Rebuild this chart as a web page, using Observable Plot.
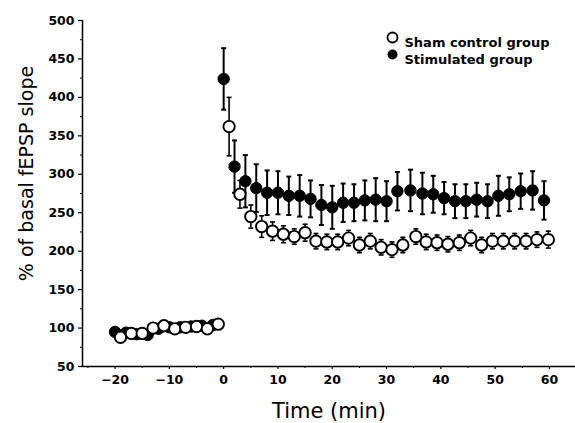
<!DOCTYPE html>
<html>
<head>
<meta charset="utf-8">
<script src="https://cdn.jsdelivr.net/npm/d3@7"></script>
<script src="https://cdn.jsdelivr.net/npm/@observablehq/plot@0.6"></script>
<style>
  html, body { margin: 0; padding: 0; background: #fff; }
</style>
</head>
<body>
<div id="chart"></div>
<script>
// ---- data ----
const seriesNames = ["Sham control group", "Stimulated group"];

// Sham control group (open circles)
const shamTime = [-19, -17, -15, -13, -11, -9, -7, -5, -3, -1,
  1, 3, 5, 7, 9, 11, 13, 15, 17, 19, 21, 23, 25, 27, 29, 31, 33,
  35.4, 37.3, 39.3, 41.3, 43.4, 45.5, 47.5, 49.5, 51.5, 53.6, 55.7, 57.7, 59.8];
const shamValue = [88, 93, 93, 100, 103, 99, 101, 102, 99, 105,
  362, 274, 245, 232, 226, 222, 219, 224, 213, 212, 212, 217, 208, 213, 205, 202, 208,
  219, 212, 211, 209, 211, 217, 208, 213, 213, 213, 213, 215, 215];
const shamError = [4, 4, 4, 4, 4, 4, 4, 4, 4, 4,
  38, 18, 15, 14, 12, 11, 10, 11, 10, 10, 10, 10, 10, 10, 10, 10, 10,
  10, 10, 10, 10, 10, 10, 10, 10, 10, 10, 10, 10, 11];

// Stimulated group (filled circles)
const stimTime = [-20, -18, -16, -14, -12, -10, -8, -6, -4, -2,
  0, 2, 4, 6, 8, 10, 12, 14, 16, 18, 20, 22, 24, 26, 28, 30, 32,
  34.4, 36.6, 38.6, 40.6, 42.6, 44.6, 46.6, 48.6, 50.6, 52.6, 54.7, 56.9, 59];
const stimValue = [95, 94, 92, 91, 99, 101, 101, 102, 103, 104,
  424, 310, 291, 282, 276, 276, 272, 272, 268, 260, 257, 263, 263, 266, 267, 265, 278,
  279, 275, 274, 269, 265, 265, 267, 265, 272, 274, 278, 279, 266];
const stimError = [4, 4, 4, 4, 4, 4, 4, 4, 4, 4,
  40, 34, 34, 31, 29, 28, 25, 27, 24, 26, 28, 25, 24, 26, 28, 26, 25,
  27, 27, 24, 21, 22, 22, 22, 22, 26, 22, 23, 25, 25];

const xTicks = [-20, -10, 0, 10, 20, 30, 40, 50, 60];
const xMinorTicks = [-25, -15, -5, 5, 15, 25, 35, 45, 55];
const yTicks = [50, 100, 150, 200, 250, 300, 350, 400, 450, 500];
const yMinorTicks = [75, 125, 175, 225, 275, 325, 375, 425, 475];
const xLabel = "Time (min)";
const yLabel = "% of basal fEPSP slope";

// ---- build tables ----
const sham = shamTime.map((t, i) => ({t, v: shamValue[i], e: shamError[i]}));
const stim = stimTime.map((t, i) => ({t, v: stimValue[i], e: stimError[i]}));

const xDomain = [-26, 64.8];
const yDomain = [50, 500];

// horizontal cap symbol for error bars
const capSymbol = {
  draw(context, size) {
    const w = Math.sqrt(size / Math.PI);
    context.moveTo(-w, 0);
    context.lineTo(w, 0);
  }
};

function errorMarks(data, sw) {
  return [
    Plot.ruleX(data, {x: "t", y1: d => d.v - d.e, y2: d => d.v + d.e, stroke: "black", strokeWidth: sw}),
    Plot.dot(data, {x: "t", y: d => d.v + d.e, symbol: capSymbol, r: 2.5, stroke: "black", strokeWidth: sw, fill: "none"}),
    Plot.dot(data, {x: "t", y: d => d.v - d.e, symbol: capSymbol, r: 2.5, stroke: "black", strokeWidth: sw, fill: "none"})
  ];
}

const chart = Plot.plot({
  width: 575,
  height: 423,
  marginLeft: 82,
  marginRight: 0,
  marginTop: 20,
  marginBottom: 57,
  x: {domain: xDomain},
  y: {domain: yDomain},
  style: {background: "white", color: "black", fontFamily: "DejaVu Sans"},
  marks: [
    // axes lines
    Plot.ruleY([yDomain[0]], {stroke: "black", strokeWidth: 1.5}),
    Plot.ruleX([xDomain[0]], {stroke: "black", strokeWidth: 1.5}),
    Plot.axisY(yTicks, {tickSize: 4, tickPadding: 4, fontSize: 12.5, fontWeight: "bold", label: null, strokeWidth: 1.2}),
    Plot.axisY(yMinorTicks, {tickSize: 2, text: null, label: null}),
    Plot.axisX(xTicks, {tickSize: 3, tickPadding: 6, fontSize: 12.5, fontWeight: "bold", label: null, strokeWidth: 1.2}),
    Plot.axisX(xMinorTicks, {tickSize: 2, text: null, label: null}),
    // stimulated group (drawn first, behind)
    ...errorMarks(stim, 2),
    Plot.dot(stim, {x: "t", y: "v", r: 5.7, fill: "black", stroke: "black", strokeWidth: 1}),
    // sham group
    ...errorMarks(sham, 1.6),
    Plot.dot(sham, {x: "t", y: "v", r: 5.7, fill: "white", stroke: "black", strokeWidth: 1.9}),
    // axis titles
    Plot.text([xLabel], {text: d => d, frameAnchor: "bottom", dy: 51, fontSize: 21, fill: "black"}),
    Plot.text([yLabel], {text: d => d, frameAnchor: "left", textAnchor: "middle", rotate: -90, dx: -56, dy: -20, fontSize: 19, fill: "black"}),
    // legend
    Plot.dot([seriesNames[0]], {frameAnchor: "top-left", dx: 310, dy: 17, r: 5, fill: "white", stroke: "black", strokeWidth: 1.8}),
    Plot.dot([seriesNames[1]], {frameAnchor: "top-left", dx: 310, dy: 34, r: 5, fill: "black"}),
    Plot.text([seriesNames[0]], {text: d => d, frameAnchor: "top-left", dx: 322, dy: 17, textAnchor: "start", fontSize: 13, fontWeight: "bold", fill: "black"}),
    Plot.text([seriesNames[1]], {text: d => d, frameAnchor: "top-left", dx: 322, dy: 34, textAnchor: "start", fontSize: 13, fontWeight: "bold", fill: "black"})
  ]
});

document.getElementById("chart").appendChild(chart);
</script>
</body>
</html>
